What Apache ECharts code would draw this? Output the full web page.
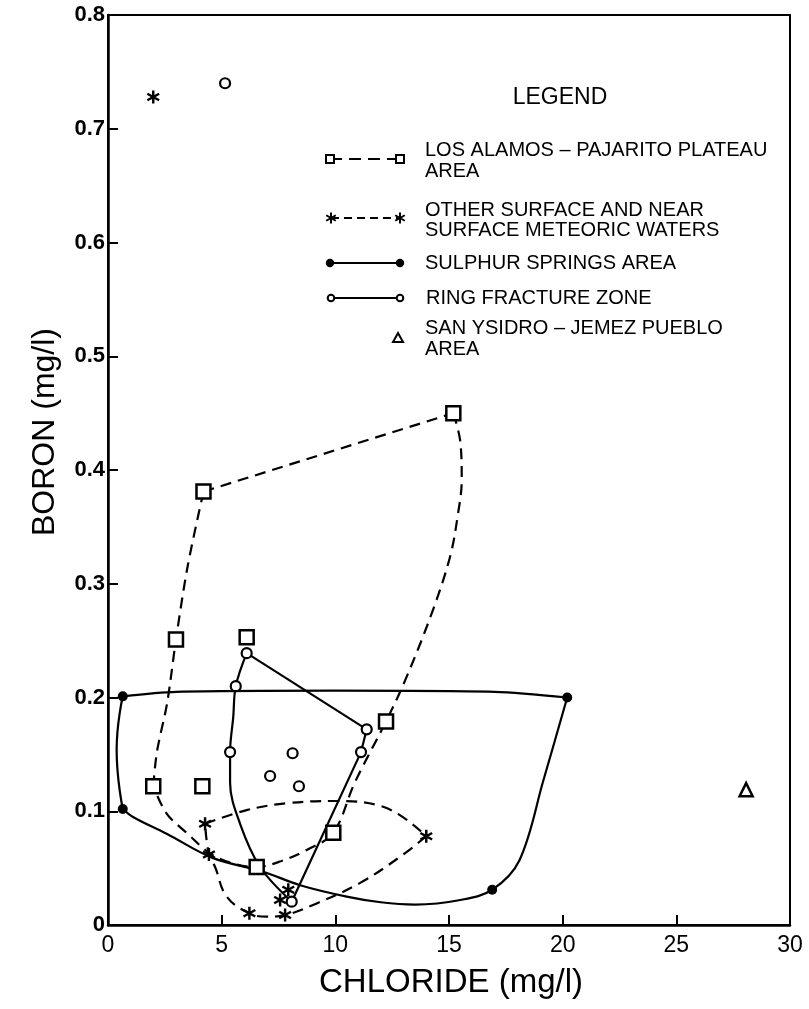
<!DOCTYPE html>
<html><head><meta charset="utf-8">
<script src="https://cdn.jsdelivr.net/npm/echarts@6.0.0/dist/echarts.min.js"></script>
<style>html,body{margin:0;padding:0;background:#fff}#c{width:809px;height:1009px}</style>
</head><body><div id="c"></div>
<script>
// ---------- axis ticks ----------
const xTicks = [0, 5, 10, 15, 20, 25, 30];
const xTickLabels = ['0', '5', '10', '15', '20', '25', '30'];
const yTicks = [0, 0.1, 0.2, 0.3, 0.4, 0.5, 0.6, 0.7, 0.8];
const yTickLabels = ['0', '0.1', '0.2', '0.3', '0.4', '0.5', '0.6', '0.7', '0.8'];

// ---------- Los Alamos - Pajarito Plateau area (squares, dashed envelope) ----------
const losAlamosPoints = [[1.99,0.122],[2.99,0.251],[4.2,0.381],[15.19,0.45],[6.1,0.253],[4.15,0.122],[12.23,0.179],[9.91,0.081],[6.54,0.051]];
const losAlamosEnvLeft = [[1.99,0.122],[2.15,0.152],[2.6,0.195],[2.99,0.251],[3.5,0.315],[4.2,0.381]];
const losAlamosEnvTop = [[4.2,0.381],[15.19,0.45]];
const losAlamosEnvRight = [[15.19,0.45],[15.49,0.426],[15.56,0.391],[15.4,0.362],[15.05,0.324],[14.24,0.274],[13.07,0.215],[12.23,0.179],[10.85,0.125],[9.91,0.081],[8.74,0.066],[7.6,0.056],[6.54,0.051],[5.51,0.054],[4.49,0.063],[3.46,0.081],[2.58,0.098],[1.99,0.122]];

// ---------- Other surface and near surface meteoric waters (asterisks, dashed envelope) ----------
const otherPoints = [[1.99,0.728],[4.27,0.089],[4.44,0.062],[14.0,0.078],[6.22,0.0103],[7.79,0.0088],[7.93,0.031],[7.57,0.022]];
const otherEnvTop = [[4.27,0.089],[6.1,0.101],[7.86,0.107],[9.91,0.109],[12.1,0.104],[14.0,0.078]];
const otherEnvBottom = [[14.0,0.078],[12.85,0.06],[11.09,0.037],[9.18,0.019],[7.79,0.0088],[6.98,0.0073],[6.22,0.0103],[5.22,0.025],[4.71,0.051],[4.44,0.062],[4.27,0.089]];

// ---------- Sulphur Springs area (filled dots, solid envelope) ----------
const sulphurPoints = [[0.65,0.201],[0.65,0.102],[20.2,0.2],[16.9,0.031]];
const sulphurEnvTop = [[0.65,0.201],[3,0.205],[10,0.206],[17,0.205],[20.2,0.2]];
const sulphurEnvRight = [[20.2,0.2],[19.15,0.127],[18.1,0.057],[16.9,0.031],[15.5,0.022],[13.5,0.018],[12.0,0.02],[10.5,0.025],[8.45,0.035],[6.8,0.047],[4.6,0.059],[2.6,0.08],[1.1,0.095],[0.65,0.102]];
const sulphurEnvLeft = [[0.65,0.102],[0.38,0.154],[0.65,0.201]];

// ---------- Ring fracture zone (open circles, solid envelope) ----------
const ringPoints = [[6.1,0.239],[5.62,0.21],[5.37,0.152],[11.38,0.172],[11.13,0.152],[8.08,0.0205],[7.13,0.131],[8.12,0.151],[8.4,0.122],[5.15,0.74]];
const ringEnvTop = [[6.1,0.239],[11.38,0.172]];
const ringEnvRight = [[11.38,0.172],[11.13,0.152],[8.08,0.0205]];
const ringEnvLeft = [[8.08,0.0205],[6.69,0.051],[5.81,0.089],[5.37,0.125],[5.37,0.152],[5.51,0.183],[5.62,0.21],[6.1,0.239]];

// ---------- San Ysidro - Jemez Pueblo area (triangle) ----------
const sanYsidroPoints = [[28.07,0.119]];

const FONT = '"Liberation Sans", Arial, Helvetica, sans-serif';
const STAR = 'path://M41 0L59 0L59 100L41 100Z M11.2 17.21L97.8 67.21L88.8 82.79L2.2 32.79Z M2.2 67.21L88.8 17.21L97.8 32.79L11.2 82.79Z';

function env(data, dashed, smooth) {
  return {
    type: 'line', data: data, smooth: smooth, symbol: 'none', silent: true, z: 2,
    lineStyle: { color: '#000', width: 2.2, type: dashed ? [11, 7] : 'solid' }
  };
}
function pts(data, symbol, size, fill, border) {
  return {
    type: 'scatter', data: data, symbol: symbol, symbolSize: size, silent: true, z: 5,
    itemStyle: { color: fill, borderColor: '#000', borderWidth: border, opacity: 1 }
  };
}

// ---------- legend graphics ----------
function starLines(x, y, r) {
  const dx = r * 0.866, dy = r * 0.5;
  return [
    { type: 'line', shape: { x1: x, y1: y - r, x2: x, y2: y + r }, style: { stroke: '#000', lineWidth: 2 } },
    { type: 'line', shape: { x1: x - dx, y1: y - dy, x2: x + dx, y2: y + dy }, style: { stroke: '#000', lineWidth: 2 } },
    { type: 'line', shape: { x1: x - dx, y1: y + dy, x2: x + dx, y2: y - dy }, style: { stroke: '#000', lineWidth: 2 } }
  ];
}
function txt(t, x, y, size, align) {
  return { type: 'text', x: x, y: y, z: 10,
    style: { text: t, fill: '#000', font: size + 'px ' + FONT, align: align || 'left', verticalAlign: 'middle',
      textAlign: align || 'left', textVerticalAlign: 'middle' } };
}
const LF = 20;
const g = [];
g.push(txt('LEGEND', 560, 98, 23, 'center'));
// Los Alamos
g.push({ type: 'line', shape: { x1: 330, y1: 159, x2: 400, y2: 159 }, style: { stroke: '#000', lineWidth: 2, lineDash: [12, 7] } });
g.push({ type: 'rect', shape: { x: 326, y: 155, width: 8, height: 8 }, style: { fill: '#fff', stroke: '#000', lineWidth: 2 } });
g.push({ type: 'rect', shape: { x: 396, y: 155, width: 8, height: 8 }, style: { fill: '#fff', stroke: '#000', lineWidth: 2 } });
g.push(txt('LOS ALAMOS – PAJARITO PLATEAU', 425, 150, LF));
g.push(txt('AREA', 425, 171, LF));
// Other surface
g.push({ type: 'line', shape: { x1: 331, y1: 218, x2: 400, y2: 218 }, style: { stroke: '#000', lineWidth: 2, lineDash: [8, 5] } });
starLines(331, 218, 5.5).forEach(e => g.push(e));
starLines(400, 218, 5.5).forEach(e => g.push(e));
g.push(txt('OTHER SURFACE AND NEAR', 425, 210, LF));
g.push(txt('SURFACE METEORIC WATERS', 425, 230, LF));
// Sulphur
g.push({ type: 'line', shape: { x1: 330, y1: 263, x2: 400, y2: 263 }, style: { stroke: '#000', lineWidth: 2.2 } });
g.push({ type: 'circle', shape: { cx: 330, cy: 263, r: 4.2 }, style: { fill: '#000' } });
g.push({ type: 'circle', shape: { cx: 400, cy: 263, r: 4.2 }, style: { fill: '#000' } });
g.push(txt('SULPHUR SPRINGS AREA', 425, 263, LF));
// Ring
g.push({ type: 'line', shape: { x1: 331, y1: 298, x2: 400, y2: 298 }, style: { stroke: '#000', lineWidth: 2.2 } });
g.push({ type: 'circle', shape: { cx: 331, cy: 298, r: 3.3 }, style: { fill: '#fff', stroke: '#000', lineWidth: 2 } });
g.push({ type: 'circle', shape: { cx: 400, cy: 298, r: 3.3 }, style: { fill: '#fff', stroke: '#000', lineWidth: 2 } });
g.push(txt('RING FRACTURE ZONE', 426, 298, LF));
// San Ysidro
g.push({ type: 'polygon', shape: { points: [[398, 333], [403, 342], [393, 342]] }, style: { fill: '#fff', stroke: '#000', lineWidth: 2 } });
g.push(txt('SAN YSIDRO – JEMEZ PUEBLO', 425, 328, LF));
g.push(txt('AREA', 425, 349, LF));
// axis titles
g.push(txt('CHLORIDE (mg/l)', 451, 983, 33, 'center'));
const boron = txt('BORON (mg/l)', 45, 432, 32, 'center');
boron.rotation = Math.PI / 2;
g.push(boron);

const chart = echarts.init(document.getElementById('c'), null, { renderer: 'canvas' });
chart.setOption({
  animation: false,
  backgroundColor: '#fff',
  grid: { left: 108, right: 19, top: 15, bottom: 84, show: true, borderColor: '#000', borderWidth: 2, backgroundColor: 'transparent' },
  xAxis: {
    type: 'value', min: 0, max: 30, interval: 5,
    axisLine: { show: true, lineStyle: { color: '#000', width: 2.5 } },
    axisTick: { show: true, inside: true, length: 10, lineStyle: { color: '#000', width: 2 } },
    axisLabel: { color: '#000', fontSize: 23, fontFamily: FONT, margin: 9,
      formatter: v => { const i = xTicks.indexOf(v); return i >= 0 ? xTickLabels[i] : ''; } },
    splitLine: { show: false }
  },
  yAxis: {
    type: 'value', min: 0, max: 0.8, interval: 0.1,
    axisLine: { show: true, lineStyle: { color: '#000', width: 2.5 } },
    axisTick: { show: true, inside: true, length: 10, lineStyle: { color: '#000', width: 2 } },
    axisLabel: { color: '#000', fontSize: 22, fontWeight: 'bold', fontFamily: FONT, margin: 3,
      formatter: v => { const i = Math.round(v * 10); return (i >= 0 && i < yTickLabels.length) ? yTickLabels[i] : ''; } },
    splitLine: { show: false }
  },
  graphic: g,
  series: [
    env(losAlamosEnvLeft, true, 0.3),
    env(losAlamosEnvTop, true, false),
    env(losAlamosEnvRight, true, 0.35),
    env(otherEnvTop, true, 0.4),
    env(otherEnvBottom, true, 0.4),
    env(sulphurEnvTop, false, 0.3),
    env(sulphurEnvRight, false, 0.35),
    env(sulphurEnvLeft, false, 0.5),
    env(ringEnvTop, false, false),
    env(ringEnvRight, false, false),
    env(ringEnvLeft, false, 0.35),
    pts(losAlamosPoints, 'rect', 14, '#fff', 2.5),
    pts(otherPoints, STAR, 13, '#000', 0),
    pts(sulphurPoints, 'circle', 10, '#000', 0),
    pts(ringPoints, 'circle', 10, '#fff', 2.2),
    pts(sanYsidroPoints, 'triangle', 13, '#fff', 2.5)
  ]
});
</script>
</body></html>
